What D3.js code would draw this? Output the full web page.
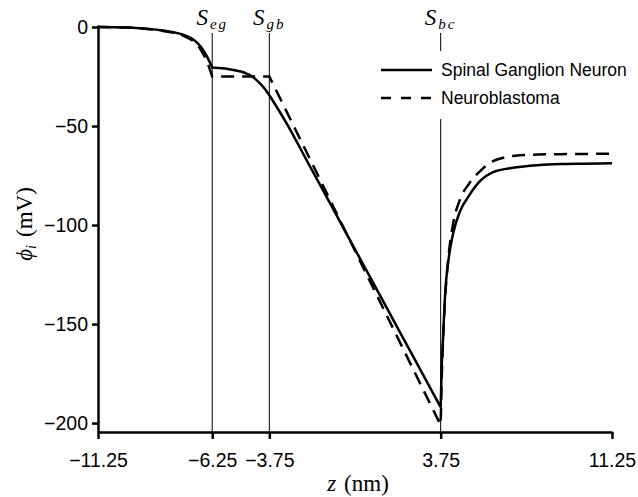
<!DOCTYPE html>
<html>
<head>
<meta charset="utf-8">
<script src="https://cdn.jsdelivr.net/npm/d3@7"></script>
<style>
  body { margin: 0; background: #fff; }
  svg { display: block; }
  .tick text { font-family: "Liberation Sans", Arial, sans-serif; font-size: 19.5px; fill: #000; }
  .math { font-family: "Liberation Serif", "Times New Roman", serif; fill: #000; }
</style>
</head>
<body>
<div id="chart"></div>
<script>
// x positions of the three interfaces
const surfaceNames = ["eg", "gb", "bc"]
const surfaceZ = [-6.25, -3.75, 3.75]

const xTicks = [-11.25, -6.25, -3.75, 3.75, 11.25]
const yTicks = [0, -50, -100, -150, -200]

// Spinal Ganglion Neuron (solid)
const zSGN = [-11.25, -10, -9, -8.5, -8, -7.5, -7, -6.75, -6.5, -6.25,
	-6, -5.5, -5, -4.75, -4.5, -4.25, -4, -3.75, -3.5, -3, -2, -1, 0, 1, 2, 3, 3.75,
	3.8, 3.85, 3.95, 4.1, 4.3, 4.6, 5, 5.5, 6, 7, 8, 9, 10, 11.25]
const phiSGN = [0, -0.3, -1, -1.6, -2.5, -4, -7, -10, -14.5, -20.5,
	-20.7, -21.3, -22.5, -23.5, -25, -27.5, -30.5, -34.5, -39, -48.5, -69.8, -91, -112.3, -133.5, -154.8, -176, -192,
	-170, -158, -134, -117, -104, -93, -85, -77.5, -73.5, -71, -69.8, -69.2, -69, -68.8]
const breaksSGN = [-6.25, 3.75]

// Neuroblastoma (dashed)
const zNB = [-11.25, -10, -9, -8.5, -8, -7.5, -7, -6.75, -6.5, -6.25,
	-3.75, -2, 0, 2, 3.75,
	3.8, 3.85, 3.95, 4.1, 4.3, 4.6, 5, 5.5, 6, 6.5, 7, 8, 9, 10, 11.25]
const phiNB = [0, -0.3, -1.1, -1.8, -2.8, -4.5, -8, -11.5, -17, -25,
	-25, -66, -113, -160, -201,
	-176, -160, -136, -115, -99, -87, -79, -72.5, -68, -66, -65, -64.4, -64.2, -64.1, -64]
const breaksNB = [-6.25, -3.75, 3.75]

const seriesNames = ["Spinal Ganglion Neuron", "Neuroblastoma"]

const width = 638
const height = 497

const svg = d3.select("#chart")
	.append("svg")
	.attr("width", width)
	.attr("height", height)

const x = d3.scaleLinear().domain([-11.25, 11.25]).range([98, 612])
const y = d3.scaleLinear().domain([1, -204.5]).range([25, 432])

const minus = d => (d < 0 ? "\u2212" : "") + Math.abs(d)

// thin interface lines
svg.append("g")
	.selectAll("line")
	.data(surfaceZ)
	.enter()
	.append("line")
	.attr("x1", d => x(d))
	.attr("x2", d => x(d))
	.attr("y1", 33)
	.attr("y2", y.range()[1])
	.attr("stroke", "#000")
	.attr("stroke-width", 1)

// interface labels  S_eg etc.
const sl = svg.append("g")
	.selectAll("text")
	.data(surfaceZ)
	.enter()
	.append("text")
	.attr("class", "math")
	.attr("x", d => x(d))
	.attr("y", 25)
	.attr("text-anchor", "middle")
	.style("font-style", "italic")
sl.append("tspan").style("font-size", "23px").text("S")
sl.append("tspan")
	.style("font-size", "15px")
	.attr("dy", 4)
	.attr("dx", 2)
	.attr("letter-spacing", "2px")
	.text((d, i) => surfaceNames[i])

// build a path that is smooth between break points but keeps corners at them
function curvePath(zs, vs, breaks) {
	const pts = zs.map((z, i) => [z, vs[i]])
	const edges = [zs[0], ...breaks, zs[zs.length - 1]]
	const line = d3.line()
		.x(d => x(d[0]))
		.y(d => y(d[1]))
		.curve(d3.curveMonotoneX)
	let out = ""
	for (let k = 0; k < edges.length - 1; k++) {
		const seg = pts.filter(p => p[0] >= edges[k] && p[0] <= edges[k + 1])
		let s = line(seg)
		if (k > 0) s = "L" + s.slice(1)
		out += s
	}
	return out
}

svg.append("path")
	.attr("d", curvePath(zSGN, phiSGN, breaksSGN))
	.attr("fill", "none")
	.attr("stroke", "#000")
	.attr("stroke-width", 2.5)

svg.append("path")
	.attr("d", curvePath(zNB, phiNB, breaksNB))
	.attr("fill", "none")
	.attr("stroke", "#000")
	.attr("stroke-width", 2.5)
	.attr("stroke-dasharray", "13,8")

// axes
const gx = svg.append("g")
	.attr("transform", `translate(0, ${y.range()[1]})`)
	.call(d3.axisBottom(x).tickValues(xTicks).tickFormat(minus).tickSize(7).tickSizeOuter(0).tickPadding(14))
const gy = svg.append("g")
	.attr("transform", `translate(${x.range()[0]}, 0)`)
	.call(d3.axisLeft(y).tickValues(yTicks).tickFormat(minus).tickSize(6).tickSizeOuter(0).tickPadding(4))
svg.selectAll(".domain, .tick line")
	.attr("stroke", "#000")
	.attr("stroke-width", 2.5)

// axis titles
const xt = svg.append("text")
	.attr("class", "math")
	.attr("x", 358)
	.attr("y", 491)
	.attr("text-anchor", "middle")
	.style("font-size", "23px")
xt.append("tspan").style("font-style", "italic").text("z")
xt.append("tspan").attr("dx", 8).text("(nm)")

const yt = svg.append("text")
	.attr("class", "math")
	.attr("transform", "translate(32, 224) rotate(-90)")
	.attr("text-anchor", "middle")
	.style("font-size", "23px")
yt.append("tspan").style("font-style", "italic").text("\u03D5")
yt.append("tspan").style("font-style", "italic").style("font-size", "14px").attr("dy", 4).text("i")
yt.append("tspan").attr("dy", -4).attr("dx", 8).text("(mV)")

// legend
const lg = svg.append("g")
lg.append("rect")
	.attr("x", 372)
	.attr("y", 51)
	.attr("width", 266)
	.attr("height", 68)
	.attr("fill", "#fff")
const items = lg.selectAll("g")
	.data(seriesNames)
	.enter()
	.append("g")
	.attr("transform", (d, i) => `translate(0, ${70 + i * 28})`)
items.append("line")
	.attr("x1", 381)
	.attr("x2", 432)
	.attr("stroke", "#000")
	.attr("stroke-width", 2.5)
	.attr("stroke-dasharray", (d, i) => i === 1 ? "10,10" : null)
items.append("text")
	.attr("x", 441)
	.attr("dy", "0.35em")
	.style("font-family", "'Liberation Sans', Arial, sans-serif")
	.style("font-size", "17.5px")
	.text(d => d)
</script>
</body>
</html>
